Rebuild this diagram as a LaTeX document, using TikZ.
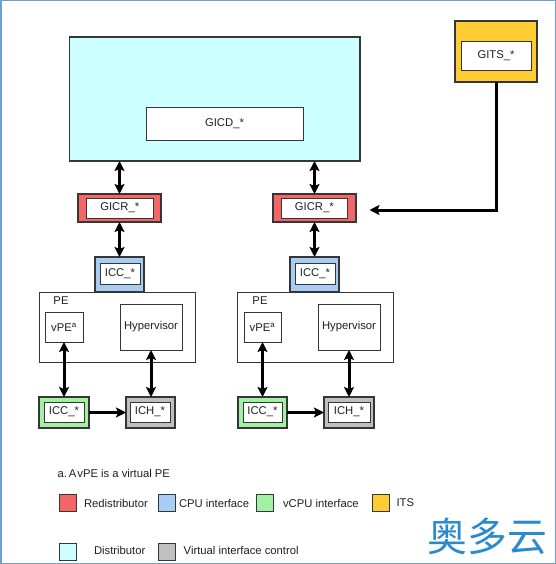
\documentclass[tikz,border=0pt]{standalone}
\usepackage{fontspec}
\setmainfont{Liberation Sans}
\newfontfamily\cjkfont{Noto Sans CJK SC}
\usetikzlibrary{arrows.meta}
\definecolor{framecol}{HTML}{6E9ED2}
\definecolor{boxline}{HTML}{363636}
\definecolor{txt}{HTML}{202020}
\definecolor{distcol}{HTML}{CCFFFF}
\definecolor{redcol}{HTML}{F46666}
\definecolor{bluecol}{HTML}{A8CCF2}
\definecolor{greencol}{HTML}{A2F0A2}
\definecolor{yellowcol}{HTML}{FDCB32}
\definecolor{graycol}{HTML}{C0C0C0}
\definecolor{wmcol}{HTML}{2A8AD0}
\begin{document}
\begin{tikzpicture}[x=1bp,y=-1bp,
  font=\fontsize{11.3}{13}\selectfont,
  every node/.style={inner sep=0pt, outer sep=0pt, text=txt},
  sz/.style 2 args={minimum width=#1 bp, minimum height=#2 bp},
  plainbox/.style={draw=boxline, line width=0.9bp, fill=white},
  outerbox/.style={draw=boxline, line width=1.3bp, fill=#1},
  legsq/.style={draw=boxline, line width=1bp, fill=#1, minimum size=17bp},
  legtxt/.style={anchor=west},
  tip/.style={},
  dbl/.style={line width=3bp, {Stealth[length=10bp,width=10bp,inset=2bp]}-{Stealth[length=10bp,width=10bp,inset=2bp]}},
  sgl/.style={line width=3bp, -{Stealth[length=10bp,width=10bp,inset=2bp]}}
]
\useasboundingbox (0,0) rectangle (556,564);
\draw[framecol, line width=1.5bp] (0.75,0.75) rectangle (555.25,563.25);

% Distributor
\node[outerbox=distcol, sz={290.5}{124}] (dist) at (214.75,99) {};
\node[plainbox, sz={157}{33}] (gicd) at (224.5,123.5) {GICD\_*};

% ITS
\node[outerbox=yellowcol, sz={82}{61}] (gitsO) at (496,51.5) {};
\node[plainbox, sz={70}{29}] (gitsI) at (496,55.5) {GITS\_*};

% Redistributors
\node[outerbox=redcol, sz={83}{28}] (gicrLO) at (119.5,208) {};
\node[plainbox, sz={66.5}{20}] (gicrLI) at (119.75,208) {GICR\_*};
\node[outerbox=redcol, sz={83}{28}] (gicrRO) at (314.5,208) {};
\node[plainbox, sz={66.5}{20}] (gicrRI) at (314.25,208) {GICR\_*};

% PE boxes
\node[plainbox, sz={156}{70}] (peL) at (117,327) {};
\node[plainbox, sz={156}{70}] (peR) at (315,327) {};
\node (peLlab) at (61,301) {PE};
\node (peRlab) at (260,301) {PE};
\node[plainbox, sz={38}{30}] (vpeL) at (64,327) {vPE\textsuperscript{a}};
\node[plainbox, sz={37}{30}] (vpeR) at (262.5,327) {vPE\textsuperscript{a}};
\node[plainbox, sz={62}{46}] (hypL) at (151,327) {Hypervisor};
\node[plainbox, sz={62}{46}] (hypR) at (349,327) {Hypervisor};

% CPU interfaces
\node[outerbox=bluecol, sz={49}{35}] (iccLO) at (119.5,274.5) {};
\node[plainbox, sz={40}{21}] (iccLI) at (120,273.5) {ICC\_*};
\node[outerbox=bluecol, sz={49}{35}] (iccRO) at (314.5,274.5) {};
\node[plainbox, sz={40}{21}] (iccRI) at (315,273.5) {ICC\_*};

% vCPU interfaces
\node[outerbox=greencol, sz={50}{31}] (gccLO) at (64,412.5) {};
\node[plainbox, sz={40}{20}] (gccLI) at (64,412) {ICC\_*};
\node[outerbox=greencol, sz={49}{31}] (gccRO) at (262.5,412.5) {};
\node[plainbox, sz={39}{20}] (gccRI) at (262.5,412) {ICC\_*};

% Virtual interface control
\node[outerbox=graycol, sz={49}{31}] (ichLO) at (150.5,412.5) {};
\node[plainbox, sz={40}{20}] (ichLI) at (150,412) {ICH\_*};
\node[outerbox=graycol, sz={50}{31}] (ichRO) at (349,412.5) {};
\node[plainbox, sz={42}{20}] (ichRI) at (349,412) {ICH\_*};

% connectors
\draw[dbl] (gicrLO.north |- dist.south) -- (gicrLO.north);
\draw[dbl] (gicrRO.north |- dist.south) -- (gicrRO.north);
\draw[dbl] (gicrLO.south) -- (iccLO.north);
\draw[dbl] (gicrRO.south) -- (iccRO.north);
\draw[dbl] (vpeL.south) -- (gccLO.north);
\draw[dbl] (vpeR.south) -- (gccRO.north);
\draw[dbl] (hypL.south) -- (hypL.south |- ichLO.north);
\draw[dbl] (hypR.south) -- (hypR.south |- ichRO.north);
\draw[sgl] (gccLO.east) -- (ichLO.west);
\draw[sgl] (gccRO.east) -- (ichRO.west);
\coordinate (itsend) at (369.5,210);
\draw[sgl] (gitsO.south) |- (itsend);

% legend
\node[anchor=west] (note) at (57.5,473) {a.\kern2bp A\kern1bp vPE is a virtual PE};
\node[legsq=redcol] (lr) at (67.5,502.5) {};
\node[legtxt] (lrt) at (84,503) {Redistributor};
\node[legsq=bluecol] (lb) at (166.75,502.5) {};
\node[legtxt] (lbt) at (179,503) {CPU interface};
\node[legsq=greencol] (lg) at (264.5,502.5) {};
\node[legtxt] (lgt) at (283,503) {vCPU interface};
\node[legsq=yellowcol] (ly) at (380.5,502.5) {};
\node[legtxt] (lyt) at (396.5,503) {ITS};
\node[legsq=distcol] (ld) at (67.5,551.5) {};
\node[legtxt] (ldt) at (94,550) {Distributor};
\node[legsq=graycol] (lgr) at (166.75,551.5) {};
\node[legtxt] (lgrt) at (183.7,550) {Virtual interface control};

% watermark
\node[text=wmcol, font=\cjkfont\fontsize{40}{41}\selectfont] (wm) at (487.5,536) {奥多云};
\end{tikzpicture}
\end{document}
